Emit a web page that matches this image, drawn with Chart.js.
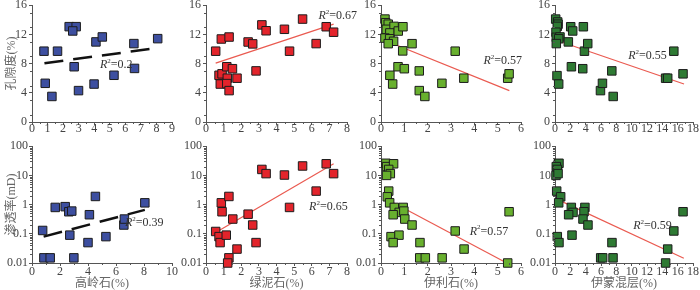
<!DOCTYPE html>
<html>
<head>
<meta charset="utf-8">
<script src="https://cdn.jsdelivr.net/npm/chart.js@4.4.0/dist/chart.umd.min.js"></script>
<style>
  html, body { margin: 0; padding: 0; background: #fff; }
  #wrap { position: relative; width: 700px; height: 290px; overflow: hidden; }
  #wrap canvas { position: absolute; }
</style>
</head>
<body>
<div id="wrap"></div>
<script>
// 高岭石 - 孔隙度 / 渗透率
const kaolPorX = [0.77, 0.85, 1.28, 1.64, 2.39, 2.84, 2.62, 2.71, 2.99, 3.99, 4.11, 4.52, 5.27, 6.55, 6.59, 8.08];
const kaolPorY = [9.7, 5.3, 3.5, 9.7, 13.06, 13.06, 12.47, 7.57, 4.3, 5.2, 10.97, 11.65, 6.4, 10.74, 7.34, 11.42];
const kaolPorFitX = [0.8, 8.08];
const kaolPorFitY = [8.05, 10.15];
const kaolPermX = [0.76, 0.85, 1.3, 1.66, 2.37, 2.63, 2.84, 2.7, 2.99, 4.0, 4.1, 4.53, 5.28, 6.56, 6.6, 8.06];
const kaolPermY = [0.13, 0.015, 0.015, 0.8, 0.85, 0.57, 0.6, 0.09, 0.015, 0.05, 0.45, 1.9, 0.08, 0.2, 0.32, 1.15];
const kaolPermFitX = [0.83, 8.06];
const kaolPermFitY = [0.08, 0.66];

// 绿泥石
const chlPorX = [0.55, 0.74, 0.81, 0.87, 0.91, 1.18, 1.21, 1.18, 1.31, 1.31, 1.5, 1.76, 2.39, 2.65, 2.84, 3.17, 3.41, 4.45, 4.74, 5.48, 6.25, 6.82, 7.24];
const chlPorY = [9.7, 6.4, 5.2, 11.37, 6.6, 7.57, 6.0, 5.26, 11.64, 4.3, 7.3, 6.0, 10.96, 10.7, 7.0, 13.3, 12.5, 12.7, 9.7, 14.1, 10.74, 13.05, 12.3];
const chlPorFitX = [0.55, 7.24];
const chlPorFitY = [8.07, 13.4];
const chlPermX = [0.55, 0.74, 0.8, 0.87, 0.91, 1.15, 1.3, 1.3, 1.23, 1.52, 1.76, 2.39, 2.65, 2.84, 3.17, 3.41, 4.45, 4.74, 5.48, 6.25, 6.82, 7.24];
const chlPermY = [0.12, 0.08, 0.05, 1.15, 0.57, 0.09, 1.9, 0.015, 0.01, 0.32, 0.03, 0.47, 0.2, 0.05, 16, 11.5, 10.3, 0.8, 21, 2.9, 25, 11.5];
const chlPermFitX = [0.55, 7.24];
const chlPermFitY = [0.11, 25];

// 伊利石
const illPorX = [0.17, 0.2, 0.31, 0.23, 0.56, 0.38, 0.74, 0.94, 0.17, 0.37, 0.54, 0.31, 1.33, 0.93, 0.73, 1.0, 1.64, 0.38, 0.5, 1.64, 1.88, 2.61, 3.18, 3.55, 5.43, 5.49];
const illPorY = [14.1, 13.6, 13.4, 12.7, 13.1, 12.2, 12.46, 13.05, 11.5, 11.4, 11.06, 10.73, 10.73, 9.74, 7.57, 7.3, 7.0, 6.4, 5.2, 4.3, 3.5, 5.3, 9.7, 6.0, 6.0, 6.6];
const illPorFitX = [0.23, 5.5];
const illPorFitY = [11.1, 4.3];
const illPermX = [0.21, 0.24, 0.54, 0.33, 0.4, 0.24, 0.33, 0.27, 0.37, 0.57, 0.95, 0.78, 0.98, 0.52, 1.02, 1.33, 0.43, 0.77, 0.52, 1.67, 1.66, 1.9, 2.62, 3.18, 3.56, 5.43, 5.49];
const illPermY = [26, 20, 25, 16, 11.5, 10, 2.9, 1.85, 1.15, 0.8, 0.8, 0.54, 0.6, 0.45, 0.32, 0.2, 0.08, 0.09, 0.05, 0.05, 0.015, 0.015, 0.015, 0.125, 0.03, 0.01, 0.57];
const illPermFitX = [0.33, 5.39];
const illPermFitY = [1.4, 0.01];

// 伊蒙混层
const isPorX = [0.09, 0.35, 0.4, 0.3, 0.13, 0.17, 0.65, 0.48, 0.17, 0.26, 0.48, 1.74, 2.05, 2.31, 2.14, 3.7, 3.84, 3.62, 4.27, 5.93, 6.19, 7.41, 7.59, 14.43, 14.7, 15.5, 16.7];
const isPorY = [14.1, 13.7, 13.4, 13.1, 12.3, 11.6, 11.65, 11.4, 10.74, 6.35, 5.2, 10.97, 13.05, 12.47, 7.57, 13.05, 9.7, 7.3, 10.74, 4.3, 5.3, 7.0, 3.5, 6.0, 6.0, 9.7, 6.6];
const isPorFitX = [0.17, 16.83];
const isPorFitY = [11.2, 5.2];
const isPermX = [0.43, 0.52, 0.17, 0.3, 0.13, 0.4, 0.22, 0.74, 0.48, 2.13, 3.9, 3.78, 2.35, 1.78, 3.65, 4.3, 0.3, 2.22, 0.52, 7.43, 5.96, 6.22, 7.57, 14.43, 14.7, 15.5, 16.7];
const isPermY = [25, 26, 20, 16, 10, 11.5, 2.9, 1.85, 1.15, 0.8, 0.8, 0.57, 0.54, 0.45, 0.32, 0.2, 0.08, 0.09, 0.05, 0.05, 0.015, 0.015, 0.015, 0.01, 0.03, 0.125, 0.57];
const isPermFitX = [0.09, 16.8];
const isPermFitY = [1.6, 0.0145];

const r2Values = ['0.2', '0.67', '0.57', '0.55', '0.39', '0.65', '0.57', '0.59'];
const permTicks = [0.01, 0.1, 1, 10, 100];
const xTitles = ['高岭石(%)', '绿泥石(%)', '伊利石(%)', '伊蒙混层(%)'];
const yTitles = ['孔隙度(%)', '渗透率(mD)'];

const axisColor = '#555';
const tickColor = '#444';
const serif = "'Liberation Serif', 'Noto Sans CJK SC', serif";
const blue = '#3d4fa0', red = '#e3242b', lightGreen = '#68b02e', darkGreen = '#2e7a33';

// minor tick marks, positioned through the chart's own scales
const minorTicks = {
  id: 'minorTicks',
  afterDraw(chart, args, opts) {
    const { ctx } = chart;
    const xs = chart.scales.x, ys = chart.scales.y;
    ctx.save();
    ctx.strokeStyle = axisColor;
    ctx.lineWidth = 1;
    ctx.beginPath();
    for (let v = opts.xStep / 2; v < xs.max; v += opts.xStep) {
      const px = Math.round(xs.getPixelForValue(v)) + 0.5;
      ctx.moveTo(px, xs.top);
      ctx.lineTo(px, xs.top + 2);
    }
    const yMinor = [];
    if (opts.log) {
      for (let d = 0.01; d < 100; d *= 10) for (let k = 2; k <= 9; k++) yMinor.push(d * k);
    } else {
      for (let v = 1; v < 16; v += 2) yMinor.push(v);
    }
    yMinor.forEach(v => {
      const py = Math.round(ys.getPixelForValue(v)) + 0.5;
      ctx.moveTo(ys.right, py);
      ctx.lineTo(ys.right - 2, py);
    });
    ctx.stroke();
    ctx.restore();
  }
};

// R² annotation
const r2Label = {
  id: 'r2Label',
  afterDatasetsDraw(chart, args, opts) {
    const { ctx } = chart;
    let x = chart.scales.x.getPixelForValue(opts.at[0]);
    const y = chart.scales.y.getPixelForValue(opts.at[1]);
    ctx.save();
    ctx.fillStyle = '#333';
    ctx.textBaseline = 'middle';
    ctx.textAlign = 'left';
    ctx.font = "italic 12px 'Liberation Serif'";
    ctx.fillText('R', x, y);
    x += ctx.measureText('R').width;
    ctx.font = "7px 'Liberation Serif'";
    ctx.fillText('2', x, y - 4);
    x += ctx.measureText('2').width;
    ctx.font = "12px 'Liberation Serif'";
    ctx.fillText('=' + opts.text, x, y);
    ctx.restore();
  }
};

const panels = [
  { L: 32, R: 172, row: 0, xMax: 9, xStep: 1, xs: kaolPorX, ys: kaolPorY, fx: kaolPorFitX, fy: kaolPorFitY, color: blue, dashed: true, r2: r2Values[0], at: [4.37, 7.84], yTitle: yTitles[0] },
  { L: 206, R: 347, row: 0, xMax: 8, xStep: 1, xs: chlPorX, ys: chlPorY, fx: chlPorFitX, fy: chlPorFitY, color: red, r2: r2Values[1], at: [6.38, 14.5] },
  { L: 381, R: 521, row: 0, xMax: 6, xStep: 1, xs: illPorX, ys: illPorY, fx: illPorFitX, fy: illPorFitY, color: lightGreen, r2: r2Values[2], at: [4.39, 8.39] },
  { L: 555, R: 693, row: 0, xMax: 18, xStep: 2, xs: isPorX, ys: isPorY, fx: isPorFitX, fy: isPorFitY, color: darkGreen, r2: r2Values[3], at: [9.55, 9.07] },
  { L: 32, R: 172, row: 1, xMax: 10, xStep: 2, xs: kaolPermX, ys: kaolPermY, fx: kaolPermFitX, fy: kaolPermFitY, color: blue, dashed: true, r2: r2Values[4], at: [6.64, 0.23], yTitle: yTitles[1], xTitle: xTitles[0] },
  { L: 206, R: 347, row: 1, xMax: 8, xStep: 1, xs: chlPermX, ys: chlPermY, fx: chlPermFitX, fy: chlPermFitY, color: red, r2: r2Values[5], at: [5.85, 0.82], xTitle: xTitles[1] },
  { L: 381, R: 521, row: 1, xMax: 6, xStep: 1, xs: illPermX, ys: illPermY, fx: illPermFitX, fy: illPermFitY, color: lightGreen, r2: r2Values[6], at: [3.8, 0.12], xTitle: xTitles[2] },
  { L: 555, R: 693, row: 1, xMax: 18, xStep: 2, xs: isPermX, ys: isPermY, fx: isPermFitX, fy: isPermFitY, color: darkGreen, r2: r2Values[7], at: [10.2, 0.186], xTitle: xTitles[3] }
];

const rows = [
  { T: 4, B: 122, xh: 20, tickPad: -3 },
  { T: 146, B: 263, xh: 27, tickPad: -1 }
];

const wrap = document.getElementById('wrap');
const padT = 8, padR = 10, yW = 32;

panels.forEach(p => {
  const row = rows[p.row];
  const log = p.row === 1;
  const canvas = document.createElement('canvas');
  const w = yW + (p.R - p.L) + padR;
  const h = padT + (row.B - row.T) + row.xh;
  canvas.width = w;
  canvas.height = h;
  canvas.style.left = (p.L - yW) + 'px';
  canvas.style.top = (row.T - padT) + 'px';
  canvas.style.width = w + 'px';
  canvas.style.height = h + 'px';
  wrap.appendChild(canvas);

  new Chart(canvas, {
    type: 'scatter',
    data: {
      datasets: [
        {
          data: p.xs.map((x, i) => ({ x, y: p.ys[i] })),
          pointStyle: 'rect',
          pointRadius: 6,
          pointBackgroundColor: p.color,
          pointBorderColor: '#1c1c1c',
          pointBorderWidth: 1,
          clip: false
        },
        {
          data: p.fx.map((x, i) => ({ x, y: p.fy[i] })),
          showLine: true,
          pointRadius: 0,
          borderColor: p.dashed ? '#111' : '#ea5a50',
          borderWidth: p.dashed ? 2.5 : 1.2,
          borderDash: p.dashed ? [19, 10] : [],
          clip: false
        }
      ]
    },
    options: {
      responsive: false,
      animation: false,
      devicePixelRatio: 1,
      layout: { padding: { top: padT, right: padR, left: 0, bottom: 0 }, autoPadding: false },
      plugins: {
        legend: { display: false },
        tooltip: { enabled: false },
        minorTicks: { xStep: p.xStep, log },
        r2Label: { text: p.r2, at: p.at }
      },
      scales: {
        x: {
          type: 'linear',
          min: 0,
          max: p.xMax,
          afterFit: s => { s.height = row.xh; },
          ticks: { stepSize: p.xStep, color: tickColor, font: { family: serif, size: 12 }, padding: row.tickPad, maxRotation: 0, autoSkip: false },
          grid: { drawOnChartArea: false, drawTicks: true, tickLength: 3, color: axisColor },
          border: { color: axisColor },
          title: {
            display: !!p.xTitle,
            text: p.xTitle || '',
            color: '#666',
            font: { family: serif, size: 12 },
            padding: { top: 0, bottom: -1 }
          }
        },
        y: log ? {
          type: 'logarithmic',
          min: 0.01,
          max: 100,
          afterFit: s => { s.width = yW; },
          afterBuildTicks: s => { s.ticks = permTicks.map(v => ({ value: v })); },
          ticks: { color: tickColor, font: { family: serif, size: 12 }, padding: 1, callback: v => String(v) },
          grid: { drawOnChartArea: false, drawTicks: true, tickLength: 3, color: axisColor },
          border: { color: axisColor },
          title: { display: !!p.yTitle, text: p.yTitle || '', color: '#666', font: { family: serif, size: 12 }, padding: { top: 5, bottom: 0 } }
        } : {
          type: 'linear',
          min: 0,
          max: 16,
          afterFit: s => { s.width = yW; },
          ticks: { stepSize: 2, color: tickColor, font: { family: serif, size: 12 }, padding: 2 },
          grid: { drawOnChartArea: false, drawTicks: true, tickLength: 3, color: axisColor },
          border: { color: axisColor },
          title: { display: !!p.yTitle, text: p.yTitle || '', color: '#666', font: { family: serif, size: 12 }, padding: { top: 5, bottom: 0 } }
        }
      }
    },
    plugins: [minorTicks, r2Label]
  });
});
</script>
</body>
</html>
